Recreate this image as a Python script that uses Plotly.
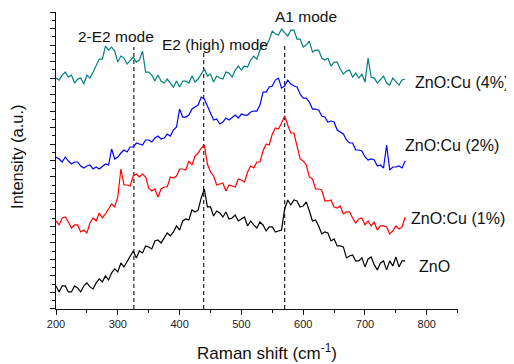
import plotly.graph_objects as go

# Raman shift grid (cm^-1), one sample every 5 cm^-1
raman_shift = list(range(200, 770, 5))

# Intensities (a.u., offset-stacked as in the figure)
zno = [
    23, 17, 23, 23, 17, 17, 23, 21, 17, 23,
    26, 22, 20, 26, 30, 27, 33, 29, 36, 40,
    37, 46, 42, 47, 53, 58, 51, 58, 56, 63,
    62, 60, 68, 69, 66, 71, 76, 73, 77, 83,
    79, 88, 90, 89, 99, 97, 99, 111, 120, 102,
    102, 93, 98, 96, 92, 97, 90, 91, 94, 88,
    90, 92, 83, 88, 84, 81, 87, 84, 78, 82,
    82, 77, 78, 79, 100, 109, 104, 109, 108, 102,
    103, 107, 98, 88, 89, 83, 75, 77, 76, 68,
    70, 63, 63, 62, 51, 53, 54, 48, 48, 51,
    42, 50, 52, 44, 39, 46, 48, 39, 48, 43,
    52, 42, 48, 48,
]
zno_cu1 = [
    88, 84, 91, 92, 87, 81, 84, 84, 77, 79,
    76, 86, 91, 88, 96, 91, 95, 100, 105, 102,
    112, 140, 124, 124, 123, 133, 135, 132, 135, 132,
    121, 118, 120, 112, 120, 122, 122, 132, 131, 133,
    140, 140, 139, 148, 144, 153, 156, 161, 164, 145,
    137, 133, 124, 125, 126, 118, 124, 123, 122, 130,
    129, 127, 137, 143, 141, 147, 147, 158, 165, 164,
    175, 181, 180, 186, 193, 184, 176, 176, 163, 150,
    148, 144, 132, 130, 120, 120, 119, 108, 108, 109,
    102, 101, 103, 95, 97, 97, 91, 86, 90, 91,
    84, 88, 83, 87, 79, 83, 83, 82, 75, 78,
    83, 80, 82, 92,
]
zno_cu2 = [
    152, 150, 147, 152, 148, 145, 147, 147, 143, 141,
    143, 144, 140, 142, 140, 143, 145, 144, 160, 150,
    152, 156, 159, 157, 162, 162, 166, 165, 164, 169,
    169, 167, 171, 173, 170, 171, 175, 173, 179, 182,
    200, 192, 192, 194, 200, 202, 204, 212, 210, 203,
    195, 189, 190, 185, 187, 191, 189, 192, 194, 191,
    195, 194, 194, 197, 198, 198, 204, 217, 217, 222,
    223, 229, 231, 221, 223, 229, 225, 223, 222, 215,
    211, 211, 207, 200, 200, 199, 193, 192, 187, 188,
    187, 179, 177, 175, 169, 166, 166, 159, 159, 158,
    152, 149, 150, 149, 143, 144, 141, 164, 139, 142,
    142, 143, 141, 148,
]
zno_cu4 = [
    231, 229, 234, 237, 232, 234, 226, 230, 231, 225,
    234, 231, 237, 244, 250, 250, 263, 259, 262, 258,
    247, 253, 251, 245, 248, 252, 247, 249, 258, 237,
    237, 234, 228, 234, 228, 226, 230, 226, 222, 228,
    222, 228, 228, 226, 233, 227, 230, 235, 240, 233,
    235, 227, 233, 231, 230, 237, 236, 232, 239, 243,
    239, 243, 242, 249, 253, 250, 259, 264, 263, 269,
    278, 275, 274, 280, 277, 273, 279, 279, 270, 270,
    262, 264, 268, 257, 259, 259, 251, 249, 251, 243,
    247, 247, 240, 235, 238, 239, 232, 236, 231, 235,
    227, 251, 232, 231, 226, 230, 233, 226, 224, 231,
    227, 224, 229, 230,
]

series_names = ["ZnO", "ZnO:Cu (1%)", "ZnO:Cu (2%)", "ZnO:Cu (4%)"]
series_values = [zno, zno_cu1, zno_cu2, zno_cu4]
series_colors = ["#000000", "#ff0000", "#0000ff", "#008080"]

# Vibrational modes marked with dashed lines
mode_names = ["2-E2 mode", "E2 (high) mode", "A1 mode"]
mode_positions = [326, 439, 570]
mode_line_tops = [262, 257, 266]

FONT = "Liberation Sans, Arial, sans-serif"

fig = go.Figure()

for pos, top in zip(mode_positions, mode_line_tops):
    fig.add_trace(go.Scatter(
        x=[pos, pos], y=[0, top], mode="lines",
        line=dict(color="#222222", width=1.2, dash="4px,3px"),
        hoverinfo="skip", showlegend=False,
    ))

for name, vals, col in zip(series_names, series_values, series_colors):
    fig.add_trace(go.Scatter(
        x=raman_shift, y=vals, mode="lines", name=name,
        line=dict(color=col, width=1.2), showlegend=False,
    ))

# Mode labels
mode_label_pos = [(297, 273), (457, 265), (604, 293)]
for txt, (lx, ly) in zip(mode_names, mode_label_pos):
    fig.add_annotation(x=lx, y=ly, xref="x", yref="y", text=txt,
                       showarrow=False, xanchor="center", yanchor="middle",
                       font=dict(family=FONT, size=15.5, color="#111111"))

# Series labels
series_label_pos = [(784, 42), (771, 90), (761, 164), (777, 227)]
for txt, (lx, ly) in zip(series_names, series_label_pos):
    fig.add_annotation(x=lx, y=ly, xref="x", yref="y", text=txt,
                       showarrow=False, xanchor="left", yanchor="middle",
                       font=dict(family=FONT, size=16, color="#111111"))

# Axis titles
fig.add_annotation(x=0.525, y=-0.145, xref="paper", yref="paper",
                   text="Raman shift (cm<sup>-1</sup>)", showarrow=False,
                   xanchor="center", yanchor="middle",
                   font=dict(family=FONT, size=17, color="#111111"))
fig.add_annotation(x=-0.097, y=0.512, xref="paper", yref="paper",
                   text="Intensity (a.u.)", showarrow=False, textangle=-90,
                   xanchor="center", yanchor="middle",
                   font=dict(family=FONT, size=16.5, color="#111111"))

# page body adds an 8px offset, so the figure is 8px smaller than the window
fig.update_layout(
    width=506, height=356,
    margin=dict(l=48, r=56, t=4, b=55),
    plot_bgcolor="white", paper_bgcolor="white",
    showlegend=False,
    font=dict(family=FONT, color="#111111"),
)
fig.update_xaxes(
    range=[200, 850.5], showgrid=False, zeroline=False,
    showline=True, linecolor="#111111", linewidth=1.3,
    ticks="outside", ticklen=5, tickwidth=1.3, tickcolor="#111111",
    tick0=200, dtick=100,
    minor=dict(ticks="outside", ticklen=3, tickwidth=1.3, tickcolor="#111111", dtick=50, tick0=200, showgrid=False),
    tickfont=dict(family=FONT, size=11, color="#222222"),
)
fig.update_yaxes(
    range=[-0.1, 297.1], showgrid=False, zeroline=False,
    showline=True, linecolor="#111111", linewidth=1.3,
    ticks="outside", ticklen=5, tickwidth=1.3, tickcolor="#111111",
    tick0=0, dtick=16.5, showticklabels=False,
    minor=dict(ticks="outside", ticklen=3, tickwidth=1.3, tickcolor="#111111", dtick=8.25, tick0=0, showgrid=False),
)

fig.write_html("out.html")
